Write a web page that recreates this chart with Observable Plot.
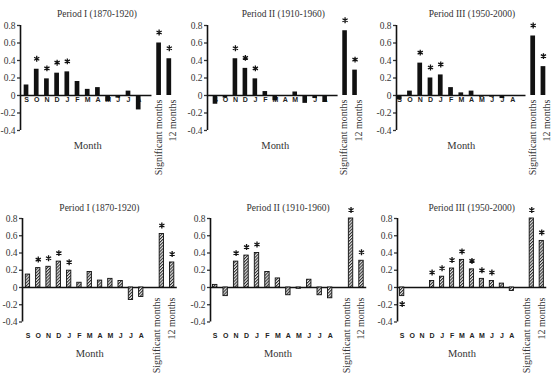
<!DOCTYPE html>
<html>
<head>
<meta charset="utf-8">
<script src="https://cdn.jsdelivr.net/npm/d3@7"></script>
<script src="https://cdn.jsdelivr.net/npm/@observablehq/plot@0.6"></script>
<style>
  html, body { margin: 0; padding: 0; background: #fff; }
  #chart { position: relative; width: 553px; height: 381px; overflow: hidden; background: #fff; }
  #chart svg { position: absolute; overflow: visible; background: transparent; }
  #chart [aria-label^="y-axis"] line, #chart [aria-label^="y-axis"] path { stroke-width: 1.3px; }
</style>
</head>
<body>
<div id="chart"></div>
<script>
// Labels
const months = ["S", "O", "N", "D", "J", "F", "M", "A", "M", "J", "J", "A"];
const summaryLabels = ["Significant months", "12 months"];
const periodTitles = ["Period I (1870-1920)", "Period II (1910-1960)", "Period III (1950-2000)"];
const axisLabel = "Month";
const yTicks = [-0.4, -0.2, 0, 0.2, 0.4, 0.6, 0.8];
const yTickLabels = ["-0.4", "-0.2", "0", "0.2", "0.4", "0.6", "0.8"];

// Upper row (solid bars): monthly values S..A, then [significant months, 12 months]
const solidMonthlyI   = [0.12, 0.30, 0.19, 0.255, 0.27, 0.16, 0.07, 0.09, -0.07, -0.03, 0.05, -0.165];
const solidSummaryI   = [0.60, 0.42];
const solidStarsI     = [0, 1, 1, 1, 1, 0, 0, 0, 0, 0, 0, 0, 1, 1];

const solidMonthlyII  = [-0.10, -0.03, 0.42, 0.31, 0.19, 0.045, -0.06, 0, 0.04, -0.09, -0.035, -0.08];
const solidSummaryII  = [0.74, 0.29];
const solidStarsII    = [0, 0, 1, 1, 1, 0, 0, 0, 0, 0, 0, 0, 1, 1];

const solidMonthlyIII = [-0.05, 0.05, 0.37, 0.20, 0.235, 0.09, 0.03, 0.05, -0.02, -0.02, -0.035, -0.01];
const solidSummaryIII = [0.68, 0.33];
const solidStarsIII   = [0, 0, 1, 1, 1, 0, 0, 0, 0, 0, 0, 0, 1, 1];

// Lower row (hatched bars)
const hatchMonthlyI   = [0.15, 0.225, 0.24, 0.30, 0.195, 0.055, 0.18, 0.08, 0.10, 0.075, -0.145, -0.11];
const hatchSummaryI   = [0.62, 0.29];
const hatchStarsI     = [0, 1, 1, 1, 1, 0, 0, 0, 0, 0, 0, 0, 1, 1];

const hatchMonthlyII  = [0.03, -0.10, 0.30, 0.37, 0.40, 0.18, 0.105, -0.09, -0.015, 0.09, -0.09, -0.125];
const hatchSummaryII  = [0.80, 0.31];
const hatchStarsII    = [0, 0, 1, 1, 1, 0, 0, 0, 0, 0, 0, 0, 1, 1];

const hatchMonthlyIII = [-0.10, 0, 0, 0.075, 0.125, 0.22, 0.32, 0.21, 0.10, 0.075, 0.045, -0.04];
const hatchSummaryIII = [0.80, 0.54];
const hatchStarsIII   = [1, 0, 0, 1, 1, 1, 1, 1, 1, 1, 0, 0, 1, 1];

// Layout
const ML = 22, MR = 14, HI = 14.4;
const serif = "'Liberation Serif', 'Times New Roman', serif";
const sans = "'Liberation Sans', Arial, sans-serif";

const rowsLayout = [
  {top: 0, height: 190, marginTop: 25, marginBottom: 60, hatched: false, barHalf: 0.23,
   baselineEnd: 12.3, letterDy: 4.2, titleDy: -12, monthDy: 15, summaryDx: 0, summaryDy: 4, starDy: -10.5},
  {top: 190, height: 191, marginTop: 28, marginBottom: 59.5, hatched: true, barHalf: 0.21,
   baselineEnd: 14.5, letterDy: 14.2, titleDy: -11, monthDy: 32, summaryDx: -4, summaryDy: 10, starDy: -8.5}
];
const panelsLayout = [
  [{axisX: 20, step: 10.2, lo: -0.59}, {axisX: 206.5, step: 9.97, lo: -0.8}, {axisX: 395.5, step: 10.27, lo: -0.31}],
  [{axisX: 22, step: 10.3, lo: -0.53}, {axisX: 210, step: 10.45, lo: -0.45}, {axisX: 397.3, step: 9.97, lo: -0.47}]
];

const series = [
  [[solidMonthlyI, solidSummaryI, solidStarsI], [solidMonthlyII, solidSummaryII, solidStarsII], [solidMonthlyIII, solidSummaryIII, solidStarsIII]],
  [[hatchMonthlyI, hatchSummaryI, hatchStarsI], [hatchMonthlyII, hatchSummaryII, hatchStarsII], [hatchMonthlyIII, hatchSummaryIII, hatchStarsIII]]
];

const chart = document.getElementById("chart");
const svgNS = "http://www.w3.org/2000/svg";

function drawPanel(r, c) {
  const row = rowsLayout[r];
  const geo = panelsLayout[r][c];
  const [monthly, summary, stars] = series[r][c];
  const values = monthly.concat(summary);
  // months sit at 0..11, one empty slot, then the two summary bars
  const data = values.map((value, j) => ({i: j < months.length ? j : j + 1, value, star: stars[j] === 1}));
  const width = ML + (HI - geo.lo) * geo.step + MR;
  const patternId = `hatch-${r}-${c}`;
  const barFill = row.hatched ? `url(#${patternId})` : "#111";

  const lettersOpts = row.hatched
    ? {x: (d, j) => j, frameAnchor: "bottom", dy: row.letterDy}
    : {x: (d, j) => j, y: 0, dy: row.letterDy};

  const starOpts = {x: "i", y: "value", symbol: "asterisk", r: 2.8, stroke: "#111", strokeWidth: 1.3};

  const svg = Plot.plot({
    width,
    height: row.height,
    marginLeft: ML,
    marginRight: MR,
    marginTop: row.marginTop,
    marginBottom: row.marginBottom,
    style: {fontFamily: serif, fontSize: "9.5px", color: "#333", background: "transparent", overflow: "visible"},
    x: {domain: [geo.lo, HI], axis: null},
    y: {
      domain: [-0.4, 0.8],
      ticks: yTicks,
      tickFormat: d => yTickLabels[yTicks.indexOf(d)],
      tickSize: 3,
      tickPadding: 2,
      label: null
    },
    marks: [
      Plot.ruleY([0], {x1: geo.lo, x2: row.baselineEnd, stroke: "#111", strokeWidth: 1.4}),
      Plot.text(months, {...lettersOpts, text: d => d, lineAnchor: "middle",
        fontFamily: sans, fontWeight: "bold", fontSize: 7, fill: "#222"}),
      Plot.rectY(data, {
        x1: d => d.i - row.barHalf,
        x2: d => d.i + row.barHalf,
        y: "value",
        fill: barFill,
        stroke: row.hatched ? "#111" : "none",
        strokeWidth: 0.9
      }),
      Plot.ruleX([geo.lo], {y1: -0.4, y2: 0.8, stroke: "#111", strokeWidth: 1.6}),
      Plot.dot(data.filter(d => d.star && d.value >= 0), {...starOpts, dy: row.starDy}),
      Plot.dot(data.filter(d => d.star && d.value < 0), {...starOpts, dy: 8}),
      Plot.text([periodTitles[c]], {frameAnchor: "top", dy: row.titleDy, lineAnchor: "middle",
        fontSize: 9.5, fill: "#333"}),
      Plot.text([axisLabel], {x: months.length / 2, frameAnchor: "bottom", dy: row.monthDy,
        lineAnchor: "middle", fontSize: 10.5, fill: "#333"}),
      Plot.text([summaryLabels.join("\n")], {
        x: months.length + 1.5, y: 0, rotate: -90, textAnchor: "end", lineAnchor: "middle",
        lineHeight: 1.45, dx: row.summaryDx, dy: row.summaryDy, fontSize: 10, fill: "#333"
      })
    ]
  });

  if (row.hatched) {
    const defs = document.createElementNS(svgNS, "defs");
    defs.innerHTML =
      `<pattern id="${patternId}" patternUnits="userSpaceOnUse" width="2.2" height="2.2" patternTransform="rotate(45)">` +
      `<rect width="2.2" height="2.2" fill="#e6e6e6"></rect>` +
      `<line x1="0.5" y1="0" x2="0.5" y2="2.2" stroke="#2a2a2a" stroke-width="1"></line>` +
      `</pattern>`;
    svg.insertBefore(defs, svg.firstChild);
  }
  svg.style.left = (geo.axisX - ML) + "px";
  svg.style.top = row.top + "px";
  chart.appendChild(svg);
}

for (let r = 0; r < 2; r++) for (let c = 0; c < 3; c++) drawPanel(r, c);
</script>
</body>
</html>
